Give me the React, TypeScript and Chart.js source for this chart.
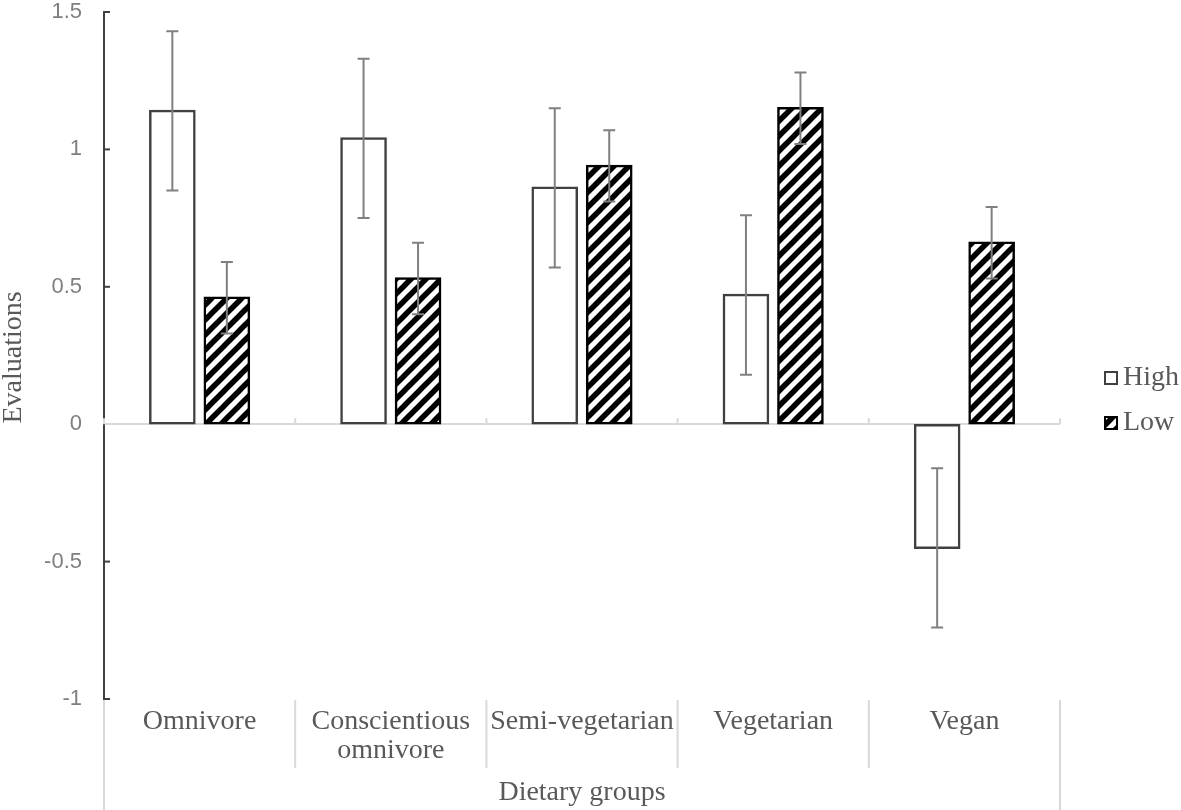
import React, { useEffect, useRef } from "react";
import { Chart, registerables } from "chart.js";

Chart.register(...registerables);

const categories: string[][] = [
  ["Omnivore"],
  ["Conscientious", "omnivore"],
  ["Semi-vegetarian"],
  ["Vegetarian"],
  ["Vegan"],
];
const seriesNames = ["High", "Low"];
const highValues = [1.14, 1.04, 0.86, 0.47, -0.45];
const lowValues = [0.46, 0.53, 0.94, 1.15, 0.66];
const highErrors = [0.29, 0.29, 0.29, 0.29, 0.29];
const lowErrors = [0.13, 0.13, 0.13, 0.13, 0.13];
const yTicks = [-1, -0.5, 0, 0.5, 1, 1.5];
const xTitle = "Dietary groups";
const yTitle = "Evaluations";

const SERIF = '"Liberation Serif", "Times New Roman", serif';
const SANS = '"Liberation Sans", Arial, sans-serif';
const TEXT = "#595959";
const LIGHT = "#d9d9d9";

function makeHatch(): CanvasPattern | string {
  const s = 15;
  const c = document.createElement("canvas");
  c.width = s;
  c.height = s;
  const g = c.getContext("2d");
  if (!g) return "#000";
  g.fillStyle = "#fff";
  g.fillRect(0, 0, s, s);
  g.strokeStyle = "#000";
  g.lineWidth = 5.5;
  g.lineCap = "square";
  for (const k of [-1, 0, 1]) {
    g.beginPath();
    g.moveTo(k * s, s);
    g.lineTo(k * s + s, 0);
    g.stroke();
  }
  const p = g.createPattern(c, "repeat");
  return p || "#000";
}

export default function App() {
  const ref = useRef<HTMLCanvasElement | null>(null);

  useEffect(() => {
    const canvas = ref.current;
    if (!canvas) return;
    const hatch = makeHatch();
    const errors = [highErrors, lowErrors];

    const decor = {
      id: "decor",
      afterDatasetsDraw(chart: any) {
        const ctx = chart.ctx as CanvasRenderingContext2D;
        const y = chart.scales.y;
        ctx.save();
        ctx.strokeStyle = "#808080";
        ctx.lineWidth = 2;
        chart.data.datasets.forEach((ds: any, d: number) => {
          const meta = chart.getDatasetMeta(d);
          meta.data.forEach((el: any, i: number) => {
            const v = ds.data[i];
            const e = errors[d][i];
            const yt = y.getPixelForValue(v + e);
            const yb = y.getPixelForValue(v - e);
            ctx.beginPath();
            ctx.moveTo(el.x, yt);
            ctx.lineTo(el.x, yb);
            ctx.moveTo(el.x - 6, yt);
            ctx.lineTo(el.x + 6, yt);
            ctx.moveTo(el.x - 6, yb);
            ctx.lineTo(el.x + 6, yb);
            ctx.stroke();
          });
        });
        ctx.restore();
      },
      afterDraw(chart: any) {
        const ctx = chart.ctx as CanvasRenderingContext2D;
        const x = chart.scales.x;
        const y = chart.scales.y;
        const area = chart.chartArea;
        const n = chart.data.labels.length;
        const step = (x.right - x.left) / n;
        const y0 = y.getPixelForValue(0);
        ctx.save();
        // inside ticks on y axis
        ctx.strokeStyle = "#404040";
        ctx.lineWidth = 2;
        y.ticks.forEach((t: any) => {
          const py = y.getPixelForValue(t.value);
          if (t.value === 0) return;
          ctx.beginPath();
          ctx.moveTo(area.left, py);
          ctx.lineTo(area.left + 6, py);
          ctx.stroke();
        });
        // zero axis ticks and category separators
        ctx.strokeStyle = LIGHT;
        ctx.lineWidth = 2;
        for (let i = 0; i <= n; i++) {
          const bx = x.left + i * step;
          ctx.beginPath();
          ctx.moveTo(bx, y0);
          ctx.lineTo(bx, y0 - 6);
          ctx.stroke();
          const outer = i === 0 || i === n;
          ctx.beginPath();
          ctx.moveTo(bx, area.bottom + 1);
          ctx.lineTo(bx, outer ? chart.height : area.bottom + 69);
          ctx.stroke();
        }
        // category labels
        ctx.fillStyle = TEXT;
        ctx.font = `28px ${SERIF}`;
        ctx.textAlign = "center";
        ctx.textBaseline = "middle";
        chart.data.labels.forEach((lab: string[], i: number) => {
          const cx = x.getPixelForValue(i);
          lab.forEach((line, j) => {
            ctx.fillText(line, cx, area.bottom + 23 + j * 29);
          });
        });
        // axis titles
        ctx.fillText(xTitle, (area.left + area.right) / 2, chart.height - 17);
        ctx.save();
        ctx.translate(14, (area.top + area.bottom) / 2 + 2);
        ctx.rotate(-Math.PI / 2);
        ctx.fillText(yTitle, 0, 0);
        ctx.restore();
        // legend
        const lx = 1105;
        const items = [
          { name: seriesNames[0], fill: "#fff", stroke: "#404040", cy: 378 },
          { name: seriesNames[1], fill: hatch, stroke: "#000", cy: 423 },
        ];
        items.forEach((it) => {
          ctx.fillStyle = it.fill as any;
          ctx.fillRect(lx, it.cy - 6, 12, 12);
          ctx.strokeStyle = it.stroke;
          ctx.lineWidth = 2;
          ctx.strokeRect(lx, it.cy - 6, 12, 12);
          ctx.fillStyle = TEXT;
          ctx.textAlign = "left";
          ctx.fillText(it.name, lx + 18, it.cy);
        });
        ctx.restore();
      },
    };

    const chart = new Chart(canvas, {
      type: "bar",
      data: {
        labels: categories as any,
        datasets: [
          {
            label: seriesNames[0],
            data: highValues,
            backgroundColor: "#ffffff",
            borderColor: "#404040",
            borderWidth: 2.5,
            borderSkipped: false,
            inflateAmount: 1.25,
          },
          {
            label: seriesNames[1],
            data: lowValues,
            backgroundColor: hatch as any,
            borderColor: "#000000",
            borderWidth: 2.5,
            borderSkipped: false,
            inflateAmount: 1.25,
          },
        ],
      },
      options: {
        responsive: false,
        animation: false,
        devicePixelRatio: 1,
        layout: { padding: { top: 12, bottom: 111, left: 0, right: 121 } },
        datasets: { bar: { categoryPercentage: 0.57, barPercentage: 0.81 } },
        plugins: {
          legend: { display: false },
          tooltip: { enabled: false },
          title: { display: false },
        },
        scales: {
          x: {
            type: "category",
            display: false,
            offset: true,
          },
          y: {
            min: yTicks[0],
            max: yTicks[yTicks.length - 1],
            afterBuildTicks: (s: any) => {
              s.ticks = yTicks.map((v) => ({ value: v }));
            },
            afterFit: (s: any) => {
              s.width = 104;
              s.paddingTop = 0;
              s.paddingBottom = 0;
            },
            ticks: {
              padding: 22,
              color: "#7f7f7f",
              font: { family: SANS, size: 22 },
              callback: (v: any) => String(Math.round(Number(v) * 10) / 10),
            },
            grid: {
              drawTicks: false,
              lineWidth: 2,
              color: (c: any) =>
                c.tick && c.tick.value === 0 ? LIGHT : "rgba(0,0,0,0)",
            },
            border: { display: true, color: "#404040", width: 2 },
          },
        },
      },
      plugins: [decor],
    });

    return () => chart.destroy();
  }, []);

  return (
    <div style={{ position: "fixed", left: 0, top: 0, width: 1181, height: 810, background: "#fff" }}>
      <canvas ref={ref} width={1181} height={810} style={{ display: "block", width: 1181, height: 810 }} />
    </div>
  );
}
